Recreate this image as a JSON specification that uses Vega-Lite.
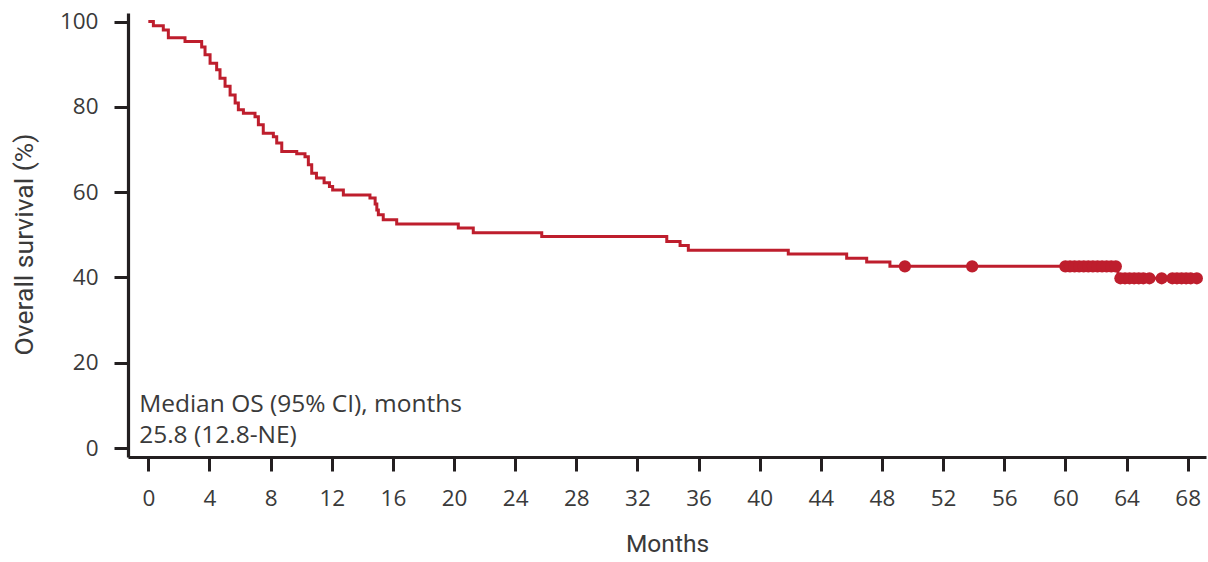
{
  "$schema": "https://vega.github.io/schema/vega-lite/v6.json",
  "width": 1078,
  "height": 444,
  "autosize": {"type": "none"},
  "padding": {"left": 128, "top": 13, "right": 2, "bottom": 105},
  "background": "white",
  "config": {
    "view": {"stroke": null},
    "axis": {
      "grid": false,
      "domainColor": "#231f20",
      "domainWidth": 3.2,
      "tickColor": "#231f20",
      "tickWidth": 3,
      "tickSize": 14,
      "labelFont": "Open Sans",
      "labelFontSize": 22.5,
      "labelColor": "#3a3a3a",
      "titleFont": "Roboto",
      "titleFontSize": 24.5,
      "titleFontWeight": "normal",
      "titleColor": "#3a3a3a"
    }
  },
  "datasets": {
    "curve": [
      {"month": 0, "survival": 100},
      {"month": 0.33, "survival": 99},
      {"month": 0.98, "survival": 98},
      {"month": 1.31, "survival": 96.2},
      {"month": 2.4, "survival": 95.3},
      {"month": 3.49, "survival": 94},
      {"month": 3.71, "survival": 92.2},
      {"month": 4.04, "survival": 90.2},
      {"month": 4.47, "survival": 88.7},
      {"month": 4.69, "survival": 86.7},
      {"month": 5.02, "survival": 84.8},
      {"month": 5.35, "survival": 82.8},
      {"month": 5.68, "survival": 80.9},
      {"month": 5.89, "survival": 79.3},
      {"month": 6.22, "survival": 78.5},
      {"month": 6.98, "survival": 77.7},
      {"month": 7.2, "survival": 75.8},
      {"month": 7.52, "survival": 73.8},
      {"month": 8.18, "survival": 73.0},
      {"month": 8.4, "survival": 71.5},
      {"month": 8.73, "survival": 69.5},
      {"month": 9.71, "survival": 69.0},
      {"month": 10.25, "survival": 68.3},
      {"month": 10.47, "survival": 66.4},
      {"month": 10.69, "survival": 64.4},
      {"month": 11.0, "survival": 63.3},
      {"month": 11.5, "survival": 62.2},
      {"month": 11.85, "survival": 61.3},
      {"month": 12.06, "survival": 60.5},
      {"month": 12.76, "survival": 59.3},
      {"month": 14.5, "survival": 58.6},
      {"month": 14.84, "survival": 57.2},
      {"month": 14.95, "survival": 55.8},
      {"month": 15.05, "survival": 54.7},
      {"month": 15.37, "survival": 53.5},
      {"month": 16.25, "survival": 52.5},
      {"month": 20.28, "survival": 51.6},
      {"month": 21.26, "survival": 50.5},
      {"month": 25.74, "survival": 49.6},
      {"month": 33.92, "survival": 48.4},
      {"month": 34.79, "survival": 47.5},
      {"month": 35.33, "survival": 46.4},
      {"month": 41.87, "survival": 45.5},
      {"month": 45.69, "survival": 44.5},
      {"month": 47.0, "survival": 43.6},
      {"month": 48.52, "survival": 42.6},
      {"month": 63.44, "survival": 39.8},
      {"month": 68.6, "survival": 39.8}
    ],
    "censor": [
      {"month": 49.5, "survival": 42.6},
      {"month": 53.9, "survival": 42.6},
      {"month": 60.0, "survival": 42.6},
      {"month": 60.3, "survival": 42.6},
      {"month": 60.6, "survival": 42.6},
      {"month": 60.9, "survival": 42.6},
      {"month": 61.2, "survival": 42.6},
      {"month": 61.5, "survival": 42.6},
      {"month": 61.8, "survival": 42.6},
      {"month": 62.1, "survival": 42.6},
      {"month": 62.4, "survival": 42.6},
      {"month": 62.7, "survival": 42.6},
      {"month": 63.0, "survival": 42.6},
      {"month": 63.3, "survival": 42.6},
      {"month": 63.6, "survival": 39.8},
      {"month": 63.9, "survival": 39.8},
      {"month": 64.2, "survival": 39.8},
      {"month": 64.5, "survival": 39.8},
      {"month": 64.8, "survival": 39.8},
      {"month": 65.1, "survival": 39.8},
      {"month": 65.5, "survival": 39.8},
      {"month": 66.3, "survival": 39.8},
      {"month": 67.0, "survival": 39.8},
      {"month": 67.3, "survival": 39.8},
      {"month": 67.6, "survival": 39.8},
      {"month": 67.9, "survival": 39.8},
      {"month": 68.2, "survival": 39.8},
      {"month": 68.6, "survival": 39.8}
    ],
    "notes": [
      {"label": "Median OS (95% CI), months", "month": -0.6, "survival": 8.5},
      {"label": "25.8 (12.8-NE)", "month": -0.6, "survival": 1.2}
    ]
  },
  "layer": [
    {
      "data": {"name": "curve"},
      "mark": {"type": "line", "interpolate": "step-after", "color": "#BE1E2D", "strokeWidth": 3},
      "encoding": {
        "x": {
          "field": "month", "type": "quantitative",
          "scale": {"domain": [-1.33, 69.2], "nice": false, "zero": false},
          "axis": {"values": [0,4,8,12,16,20,24,28,32,36,40,44,48,52,56,60,64,68], "title": "Months", "labelPadding": 16, "titlePadding": 23}
        },
        "y": {
          "field": "survival", "type": "quantitative",
          "scale": {"domain": [-2.1, 102], "nice": false, "zero": false},
          "axis": {"values": [0,20,40,60,80,100], "title": "Overall survival (%)", "labelPadding": 16, "titlePadding": 21, "titleFontSize": 26.5, "titleY": 231}
        }
      }
    },
    {
      "data": {"name": "censor"},
      "mark": {"type": "point", "filled": true, "opacity": 1, "color": "#BE1E2D", "size": 150},
      "encoding": {
        "x": {"field": "month", "type": "quantitative"},
        "y": {"field": "survival", "type": "quantitative"}
      }
    },
    {
      "data": {"name": "notes"},
      "mark": {"type": "text", "align": "left", "baseline": "alphabetic", "font": "Open Sans", "fontSize": 24.5, "color": "#3a3a3a"},
      "encoding": {
        "x": {"field": "month", "type": "quantitative"},
        "y": {"field": "survival", "type": "quantitative"},
        "text": {"field": "label"}
      }
    }
  ]
}
